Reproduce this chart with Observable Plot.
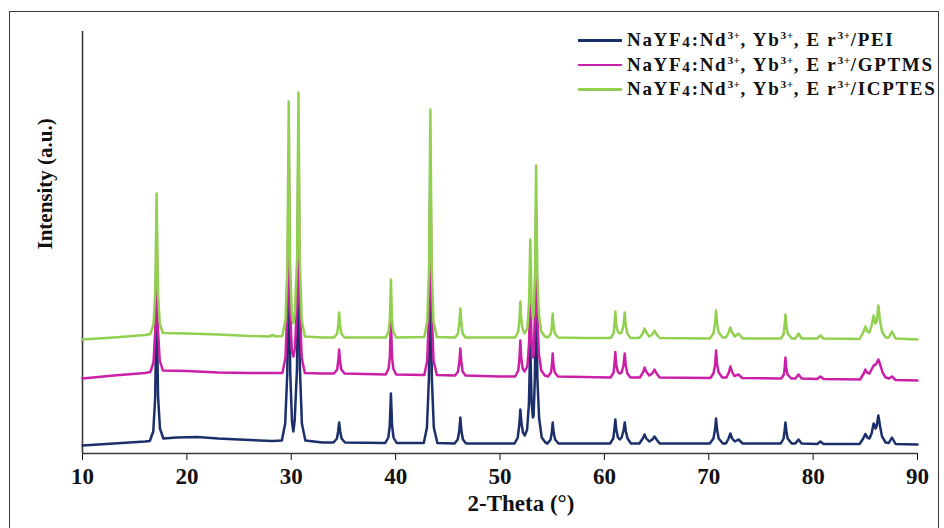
<!DOCTYPE html>
<html>
<head>
<meta charset="utf-8">
<script src="https://cdn.jsdelivr.net/npm/d3@7"></script>
<script src="https://cdn.jsdelivr.net/npm/@observablehq/plot@0.6"></script>
<style>
  html, body { margin: 0; padding: 0; background: #fff; }
  #wrap { position: relative; width: 944px; height: 528px; overflow: hidden; }
  #frame { position: absolute; left: 9px; top: 11px; width: 930px; height: 600px;
           border: 1.5px solid #3a3a3a; box-sizing: border-box; }
  #legend { position: absolute; left: 578px; top: 28px; font-family: "Liberation Serif", serif;
            font-weight: bold; font-size: 19px; letter-spacing: 1.7px; color: #111; }
  .row { display: flex; align-items: center; height: 24.5px; white-space: nowrap; }
  .swatch { width: 44px; height: 2.5px; margin-right: 5px; }
  sup { font-size: 0.6em; vertical-align: 0.6em; line-height: 0; letter-spacing: 0.5px; }
  sub { font-size: 0.8em; vertical-align: -0.05em; line-height: 0; }
  #chart { position: absolute; left: 0; top: 0; }
</style>
</head>
<body>
<div id="wrap">
  <div id="frame"></div>
  <div id="chart"></div>
  <div id="legend"></div>
</div>
<script>
// ---- data (2θ in degrees, intensity in a.u.) ----
const xTicks = [10, 20, 30, 40, 50, 60, 70, 80, 90];
const seriesNames = ["PEI", "GPTMS", "ICPTES"];
const seriesColors = ["#1b2f6b", "#cc1fa8", "#92d050"];

const pei = [
  [10,8],[13,10],[16.0,12],
  [16.45,12.5],[16.78,22],[16.96,55],[17.1,150],[17.24,57],[17.42,25],[17.75,15],
  [19,16],[21,16.5],[23,15],[26,13.5],[28.2,12.5],
  [29.1,13],[29.42,30],[29.62,80],[29.76,230],[29.9,82],[30.07,32],[30.2,22],[30.33,33],[30.55,85],[30.69,240],[30.83,85],[31.02,30],[31.35,13],
  [33,11],
  [34.05,11],[34.38,15],[34.49,22],[34.59,31],[34.69,22],[34.82,15],[35.15,11],
  [39.0,10.5],[39.3,16],[39.44,28],[39.55,60],[39.66,28],[39.8,16],[40.1,10.5],
  [42.7,10.5],[43.0,26],[43.19,75],[43.33,215],[43.47,75],[43.66,26],[44.0,10.5],
  [45.65,10],[45.95,14],[46.09,22],[46.2,36],[46.31,22],[46.45,14],[46.75,10],
  [50,10],
  [51.4,10],[51.7,16],[51.84,28],[51.95,44],[52.06,30],[52.2,21],[52.38,18],[52.6,24],[52.77,50],[52.9,110],[53.03,50],[53.15,36],[53.22,38],[53.34,75],[53.46,180],[53.58,75],[53.75,35],[54.0,16],[54.35,11],
  [54.55,10],[54.85,14],[54.96,21],[55.05,31],[55.14,21],[55.28,14],[55.6,10],
  [58,10],
  [60.55,10],[60.85,15],[60.96,24],[61.05,34],[61.14,24],[61.3,16],[61.47,14],[61.65,16],[61.84,23],[61.95,31],[62.06,22],[62.22,15],[62.55,10],
  [63.35,10],[63.68,15],[63.85,19],[64.02,15],[64.3,12],[64.6,14],[64.8,17],[65.0,14],[65.3,10],
  [70.1,10],[70.45,15],[70.6,24],[70.7,35],[70.8,24],[70.95,15],[71.35,10],
  [71.65,10],[71.9,15],[72.07,20],[72.24,15],[72.5,12],[72.85,14],[73.25,10],
  [76.9,10],[77.17,15],[77.27,23],[77.35,31],[77.43,23],[77.56,15],[77.95,10],
  [78.3,10],[78.6,14],[78.9,10],
  [80.4,9.5],[80.7,12],[81.0,9.5],
  [84.45,9.5],[84.8,15],[85.0,19.5],[85.2,16],[85.4,15],[85.6,20],[85.8,30],[85.98,25],[86.08,27],[86.25,38],[86.42,27],[86.6,17],[86.95,11],[87.25,10.5],[87.55,16],[87.9,9.5],
  [90,9]
];

const gptms = [
  [10,75],[13,78],[16.0,80.5],
  [16.5,81.5],[16.8,91],[16.97,123],[17.1,222],[17.23,124],[17.4,93],[17.7,83],
  [20,82.5],[23,81],[26,80.5],[28.2,80.5],
  [29.15,80.5],[29.45,96],[29.63,146],[29.76,300],[29.89,146],[30.05,103],[30.2,97],[30.35,105],[30.56,150],[30.69,310],[30.82,150],[31.0,96],[31.3,80.5],
  [33,80],
  [34.1,80],[34.4,84],[34.5,92],[34.59,104],[34.68,92],[34.8,84],[35.1,80],
  [39.05,79],[39.33,85],[39.45,97],[39.55,137],[39.65,97],[39.77,85],[40.05,79],
  [42.75,78.5],[43.03,93],[43.2,143],[43.33,295],[43.46,143],[43.63,93],[43.95,78.5],
  [45.7,78],[45.98,82],[46.1,91],[46.2,105],[46.3,91],[46.42,82],[46.7,78],
  [50,77],
  [51.45,77],[51.75,83],[51.86,94],[51.95,113],[52.04,95],[52.17,85],[52.35,82],[52.62,87],[52.78,110],[52.9,170],[53.02,112],[53.15,96],[53.22,99],[53.35,140],[53.46,245],[53.57,140],[53.72,100],[53.95,83],[54.3,78],
  [54.6,77],[54.88,81],[54.97,88],[55.05,100],[55.13,88],[55.25,81],[55.55,77],
  [58,76.5],
  [60.6,76],[60.88,81],[60.97,89],[61.05,101.5],[61.13,89],[61.28,82],[61.45,80],[61.65,81],[61.83,88],[61.95,100],[62.05,88],[62.2,80],[62.5,76],
  [63.4,76],[63.7,81],[63.85,86],[64.0,82],[64.3,78],[64.6,80],[64.8,84],[65.0,80],[65.3,76],
  [70.15,75.5],[70.45,80],[70.6,88],[70.7,103],[70.8,89],[70.95,81],[71.3,76],
  [71.7,76],[71.92,81],[72.07,87],[72.22,82],[72.45,77.5],[72.85,79],[73.2,75.5],
  [76.95,75],[77.2,79],[77.27,85],[77.35,96],[77.43,85],[77.55,79],[77.9,75],
  [78.3,75],[78.6,79],[78.9,75],
  [80.4,74.5],[80.7,77],[81.0,74.5],
  [84.5,74],[84.85,80],[85.0,84],[85.15,81],[85.4,80],[85.65,85],[85.8,88],[86.0,89],[86.25,94],[86.45,88],[86.65,81],[86.95,76],[87.25,75],[87.55,77],[87.9,73.5],
  [90,73]
];

const icptes = [
  [10,114],[13,116],[16.0,118.5],
  [16.5,119.5],[16.8,129],[16.97,161],[17.1,260],[17.23,162],[17.4,130],[17.7,120.5],
  [20,120],[23,119],[26,117.5],[27.9,117],[28.2,118.5],[28.5,117],
  [29.15,117.5],[29.45,134],[29.63,188],[29.76,352],[29.89,188],[30.05,140],[30.2,130],[30.35,142],[30.56,195],[30.69,361],[30.82,195],[31.0,134],[31.3,117],
  [33,116],
  [34.1,116],[34.4,120],[34.5,128],[34.59,141],[34.68,128],[34.8,120],[35.1,116],
  [39.05,116],[39.33,122],[39.45,135],[39.55,174],[39.65,135],[39.77,122],[40.05,116],
  [42.75,116.5],[43.03,132],[43.2,185],[43.33,344],[43.46,185],[43.63,132],[43.95,116.5],
  [45.7,116],[45.98,120],[46.1,130],[46.2,145],[46.3,130],[46.42,120],[46.7,116],
  [50,116],
  [51.45,116],[51.75,122],[51.86,133],[51.95,152],[52.04,134],[52.17,124],[52.35,120],[52.62,125],[52.78,150],[52.9,214],[53.02,152],[53.15,135],[53.22,138],[53.35,180],[53.46,288],[53.57,180],[53.72,140],[53.95,122],[54.3,117],
  [54.6,116],[54.88,120],[54.97,128],[55.05,140],[55.13,128],[55.25,120],[55.55,116],
  [58,115.5],
  [60.6,115.5],[60.88,120],[60.97,129],[61.05,142],[61.13,129],[61.28,122],[61.45,120],[61.65,121],[61.83,128],[61.95,141],[62.05,128],[62.2,120],[62.5,115.5],
  [63.35,115.5],[63.68,120],[63.85,125],[64.02,121],[64.3,117],[64.6,119],[64.8,123],[65.0,119],[65.3,115.5],
  [70.1,115],[70.45,120],[70.6,130],[70.7,143],[70.8,130],[70.95,121],[71.35,116],
  [71.65,116],[71.9,121],[72.07,126],[72.24,121],[72.5,117],[72.85,120],[73.25,115],
  [76.9,115],[77.17,119],[77.27,128],[77.35,139],[77.43,128],[77.56,120],[77.95,115],
  [78.3,115],[78.6,120],[78.9,115],
  [80.4,115],[80.7,118],[81.0,115],
  [84.45,114.5],[84.8,121],[85.0,127],[85.2,122],[85.4,121],[85.6,128],[85.8,138],[85.95,130],[86.1,132],[86.25,148],[86.42,132],[86.6,122],[86.95,116],[87.25,116],[87.55,122],[87.9,115],
  [90,114]
];

const xLabel = "2-Theta (°)";
const yLabel = "Intensity (a.u.)";
// ---------------------------------------------------------------------

const allSeries = [pei, gptms, icptes];
const lineMarks = allSeries.map((s, i) =>
  Plot.line(s, {x: d => d[0], y: d => d[1], stroke: seriesColors[i], strokeWidth: 2.5,
                strokeLinejoin: "round", strokeLinecap: "round"})
);

const chart = Plot.plot({
  width: 944,
  height: 528,
  marginLeft: 82,
  marginRight: 27,
  marginTop: 31,
  marginBottom: 75,
  style: {fontFamily: "'Liberation Serif', serif", fontWeight: "bold", fontSize: "23px",
          color: "#111", background: "transparent", overflow: "visible"},
  x: {domain: [10, 90], ticks: xTicks, tickSize: 7, tickPadding: 7, tickFormat: d => String(d), label: null},
  y: {domain: [0, 422], axis: null},
  marks: [
    Plot.ruleY([0], {stroke: "#3a3a3a", strokeWidth: 1.6}),
    Plot.ruleX([10], {stroke: "#3a3a3a", strokeWidth: 1.6}),
    ...lineMarks,
    Plot.text([xLabel], {text: d => d, frameAnchor: "bottom", dx: 21, dy: 57,
                         fontSize: 23, fontWeight: "bold", fill: "#111"}),
    Plot.text([yLabel], {text: d => d, frameAnchor: "left", rotate: -90, dx: -37, dy: 7,
                         fontSize: 21, fontWeight: "bold", fill: "#111"})
  ]
});
document.getElementById("chart").appendChild(chart);

// legend (HTML overlay)
const legend = document.getElementById("legend");
seriesNames.forEach((name, i) => {
  const row = document.createElement("div");
  row.className = "row";
  row.innerHTML = `<div class="swatch" style="background:${seriesColors[i]}"></div>` +
    `<span>NaYF<sub>4</sub>:Nd<sup>3+</sup>, Yb<sup>3+</sup>, E r<sup>3+</sup>/${name}</span>`;
  legend.appendChild(row);
});
</script>
</body>
</html>
